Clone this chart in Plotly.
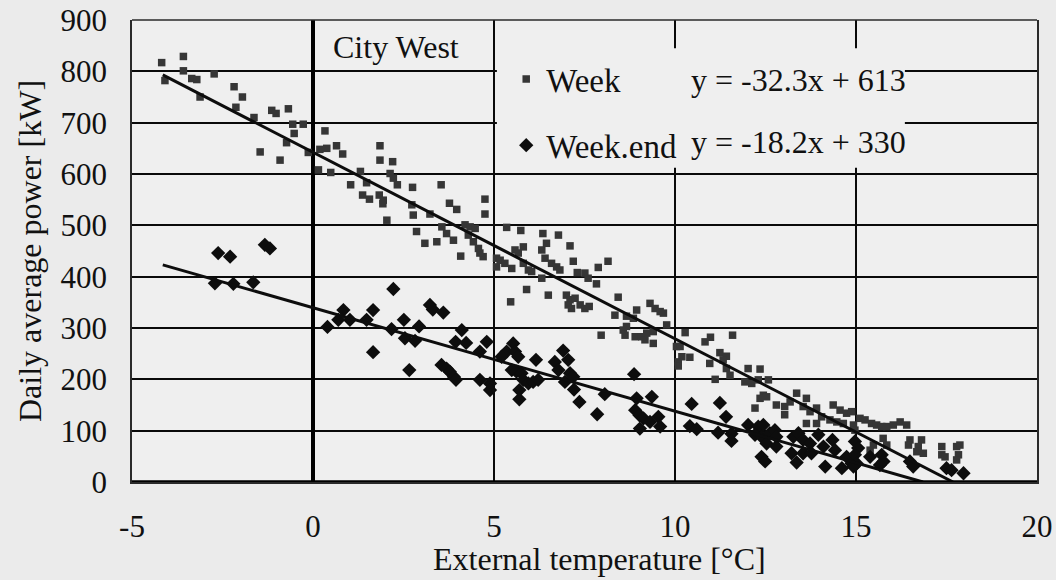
import plotly.graph_objects as go

# ---------------- data ----------------
week_x = [-4.18, -3.58, -3.58, -4.09, -3.35, -3.21, -3.12, -2.73, -2.18, -1.95, -2.13, -1.63,
          -1.14, -1.02, -0.68, -0.56, -0.27, -0.52, -0.73, -1.46, -0.91, -0.13,
          0.33, 0.19, 0.38, 0.65, 0.82, 0.15, 0.49, 1.85, 1.85, 2.20, 2.13, 2.22, 2.33,
          1.31, 1.48, 1.04, 1.37, 1.56, 1.83, 1.94, 1.93, 2.04, 2.75, 2.73, 2.77, 2.86,
          3.09, 3.23, 3.54, 3.77, 3.97, 4.75, 4.75, 3.56, 3.69, 3.88, 3.42, 4.08, 4.20,
          4.34, 4.48, 4.29, 4.43, 4.57, 4.70, 4.61, 5.07, 5.07, 5.35, 5.74, 6.35, 6.78,
          7.10, 5.17, 5.58, 5.81, 5.67, 5.30, 5.49, 5.81, 5.95, 6.04, 6.32, 6.45, 6.41,
          6.59, 6.73, 6.82, 6.32, 7.19, 7.30, 7.51, 7.60, 7.88, 8.15, 7.83, 5.90, 5.46,
          6.50, 7.00, 7.10, 7.24, 7.14, 7.05, 7.38, 7.51, 7.63, 8.43, 8.34, 8.66, 8.85,
          8.94, 9.31, 9.45, 9.59, 9.68, 9.77, 8.57, 8.66, 8.62, 8.90, 9.08, 9.22, 9.40,
          9.17, 9.40, 7.96, 10.04, 10.09, 10.28, 10.14, 10.19, 10.09, 10.41, 10.83,
          10.98, 11.59, 10.96, 11.24, 11.42, 11.33, 11.42, 11.52, 11.11, 12.02, 12.35,
          11.93, 12.12, 12.30, 12.58, 12.44, 12.53, 12.35, 12.21, 12.80, 13.03, 13.18,
          13.03, 13.36, 13.63, 13.54, 13.73, 13.91, 14.05, 13.63, 13.91, 14.37, 14.56,
          14.74, 14.88, 14.28, 14.47, 14.65, 14.93, 14.97, 15.11, 15.25, 15.43, 15.57,
          15.71, 15.85, 16.03, 16.22, 16.40, 15.48, 15.39, 15.75, 15.85, 16.49, 16.45,
          16.81, 16.72, 16.86, 16.68, 17.37, 17.37, 17.46, 17.78, 17.87, 17.83, 17.78]
week_y = [817, 829, 801, 782, 786, 784, 750, 795, 770, 750, 730, 710,
          724, 718, 727, 697, 697, 679, 661, 643, 627, 642,
          684, 648, 650, 655, 639, 608, 603, 655, 627, 624, 601, 592, 579,
          605, 583, 579, 559, 551, 559, 549, 542, 510, 574, 540, 520, 488,
          465, 522, 579, 543, 531, 551, 522, 497, 484, 471, 468, 440, 501,
          497, 494, 481, 468, 455, 439, 446, 436, 419, 496, 490, 484, 481,
          460, 432, 452, 458, 446, 426, 416, 426, 413, 410, 452, 465, 436,
          426, 419, 413, 397, 430, 408, 407, 397, 418, 430, 386, 375, 351,
          364, 364, 355, 358, 338, 345, 345, 338, 342, 360, 325, 323, 319,
          335, 348, 338, 332, 329, 306, 296, 303, 286, 283, 283, 290, 293,
          277, 270, 286, 264, 234, 291, 264, 244, 226, 243, 273,
          282, 286, 231, 252, 245, 238, 221, 208, 200, 221, 220,
          195, 192, 199, 199, 169, 166, 163, 144, 150, 147, 156,
          131, 173, 163, 147, 137, 144, 127, 114, 114, 150, 140,
          134, 137, 121, 117, 114, 111, 101, 124, 121, 114, 111,
          108, 108, 111, 117, 111, 72, 62, 85, 72, 82, 72,
          82, 69, 56, 59, 69, 53, 49, 69, 72, 53, 43]

weekend_x = [-2.71, -2.20, -1.65, -2.62, -2.29, -1.33, -1.19, 0.40, 0.70, 0.84, 1.02, 1.48,
             1.66, 1.66, 2.22, 2.17, 2.51, 2.54, 2.82, 2.66, 2.93, 3.23, 3.31, 3.60,
             3.55, 3.69, 3.78, 3.89, 3.95, 4.11, 3.94, 4.23, 4.61, 4.61, 4.80, 4.89,
             4.89, 5.53, 5.35, 5.58, 5.67, 5.21, 5.49, 5.62, 5.76, 5.81, 5.95, 6.08,
             6.22, 5.70, 5.70, 6.16, 6.68, 6.78, 6.91, 7.05, 6.96, 7.10, 7.19, 7.21,
             7.36, 8.06, 7.85, 8.87, 8.94, 9.36, 8.90, 9.02, 9.13, 9.03, 9.31, 9.54,
             9.59, 10.46, 11.24, 10.41, 10.60, 11.19, 11.56, 11.56, 11.41, 12.02, 12.30,
             12.44, 12.21, 12.39, 12.62, 12.76, 12.80, 12.53, 12.80, 12.39, 12.49, 13.27,
             13.41, 13.54, 13.73, 13.96, 14.10, 14.35, 14.42, 13.22, 13.36, 13.54, 13.77,
             14.15, 14.61, 14.74, 14.88, 14.97, 15.06, 14.97, 15.02, 14.93, 15.39, 15.71,
             15.76, 15.66, 16.49, 16.58, 17.50, 17.64, 17.97]
weekend_y = [387, 386, 389, 446, 439, 462, 455, 302, 316, 335, 316, 316,
             335, 253, 376, 298, 316, 280, 275, 218, 303, 345, 336, 330,
             228, 221, 215, 205, 199, 296, 273, 271, 254, 199, 273, 192,
             179, 270, 254, 254, 244, 244, 218, 215, 212, 199, 192, 195,
             199, 179, 161, 238, 234, 218, 256, 238, 195, 212, 205, 180,
             156, 171, 132, 210, 163, 166, 140, 130, 124, 104, 117, 127,
             108, 152, 154, 109, 103, 96, 94, 80, 127, 111, 108,
             111, 92, 88, 95, 101, 88, 75, 69, 49, 40, 88,
             95, 82, 75, 92, 69, 82, 62, 56, 38, 56, 56,
             30, 27, 49, 36, 79, 66, 53, 36, 30, 49, 53,
             40, 33, 40, 30, 27, 23, 17]

# drawn trend lines (end points as seen in the picture)
week_fit_x = [-4.15, 17.68]
week_fit_y = [793, 0]
weekend_fit_x = [-4.15, 16.85]
weekend_fit_y = [423, 0]

x_ticks = [-5, 0, 5, 10, 15, 20]
x_tick_text = ["-5", "0", "5", "10", "15", "20"]
y_ticks = [0, 100, 200, 300, 400, 500, 600, 700, 800, 900]
y_tick_text = [str(v) for v in y_ticks]

series_names = ["Week", "Week.end"]
equations = ["y = -32.3x + 613", "y = -18.2x + 330"]
title_text = "City West"
x_title = "External temperature [°C]"
y_title = "Daily average power [kW]"

# ---------------- styling ----------------
FONT = "Liberation Serif"
TXT = "#111111"
PAPER_BG = "#ebebeb"
PLOT_BG = "#efefef"
GRID = "#0a0a0a"

fig = go.Figure()
fig.add_trace(go.Scatter(x=week_x, y=week_y, mode="markers", name=series_names[0],
                         marker=dict(symbol="square", size=7.5, color="#363636"),
                         legend="legend"))
fig.add_trace(go.Scatter(x=weekend_x, y=weekend_y, mode="markers", name=series_names[1],
                         marker=dict(symbol="diamond", size=11, color="#0d0d0d"),
                         legend="legend2"))
fig.add_trace(go.Scatter(x=week_fit_x, y=week_fit_y, mode="lines",
                         line=dict(color="#0d0d0d", width=3), showlegend=False))
fig.add_trace(go.Scatter(x=weekend_fit_x, y=weekend_fit_y, mode="lines",
                         line=dict(color="#0d0d0d", width=3), showlegend=False))

axis_common = dict(showgrid=True, gridcolor=GRID, gridwidth=2, automargin=False,
                   ticks="", tickfont=dict(family=FONT, size=31, color=TXT),
                   showline=True, linecolor="#2a2a2a", linewidth=1.5)

fig.update_layout(
    width=1056, height=580, autosize=False,
    margin=dict(l=132, r=19, t=20, b=98, pad=0),
    paper_bgcolor=PAPER_BG, plot_bgcolor=PLOT_BG,
    font=dict(family=FONT, color=TXT),
    xaxis=dict(range=[-5, 20], tickvals=x_ticks, ticktext=x_tick_text, zeroline=True,
               zerolinecolor="#000", zerolinewidth=3.5, ticklabelstandoff=16, **axis_common),
    yaxis=dict(range=[0, 900], tickvals=y_ticks, ticktext=y_tick_text, zeroline=False,
               mirror=True, ticklabelstandoff=17, **axis_common),
    legend=dict(x=0.4135, y=0.872, xanchor="left", yanchor="middle",
                bgcolor="rgba(0,0,0,0)", font=dict(family=FONT, size=33, color=TXT)),
    legend2=dict(x=0.4135, y=0.729, xanchor="left", yanchor="middle",
                 bgcolor="rgba(0,0,0,0)", font=dict(family=FONT, size=33, color=TXT)),
    shapes=[
        # blank area behind the legend (grid hidden there)
        dict(type="rect", xref="x", yref="y", x0=5.08, x1=16.35, y0=612, y1=845,
             fillcolor=PLOT_BG, line=dict(width=0), layer="above"),
        # thick baseline at y = 0
        dict(type="line", xref="paper", yref="y", x0=0, x1=1, y0=0, y1=0,
             line=dict(color="#000", width=3.5), layer="above"),
        # top border
        dict(type="line", xref="paper", yref="paper", x0=0, x1=1, y0=1, y1=1,
             line=dict(color="#2a2a2a", width=1.5), layer="above"),
    ],
    annotations=[
        dict(text=title_text, xref="paper", yref="paper", x=0.2917, y=0.9416,
             xanchor="center", yanchor="middle", showarrow=False,
             font=dict(family=FONT, size=32, color=TXT)),
        dict(text=equations[0], xref="paper", yref="paper", x=0.6155, y=0.870,
             xanchor="left", yanchor="middle", showarrow=False,
             font=dict(family=FONT, size=32, color=TXT)),
        dict(text=equations[1], xref="paper", yref="paper", x=0.6155, y=0.736,
             xanchor="left", yanchor="middle", showarrow=False,
             font=dict(family=FONT, size=32, color=TXT)),
        dict(text=x_title, xref="paper", yref="paper", x=0.517, y=-0.166,
             xanchor="center", yanchor="middle", showarrow=False,
             font=dict(family=FONT, size=32, color=TXT)),
        dict(text=y_title, xref="paper", yref="paper", x=-0.1127, y=0.5,
             xanchor="center", yanchor="middle", textangle=-90, showarrow=False,
             font=dict(family=FONT, size=32, color=TXT)),
    ],
)

fig.write_html("out.html")
